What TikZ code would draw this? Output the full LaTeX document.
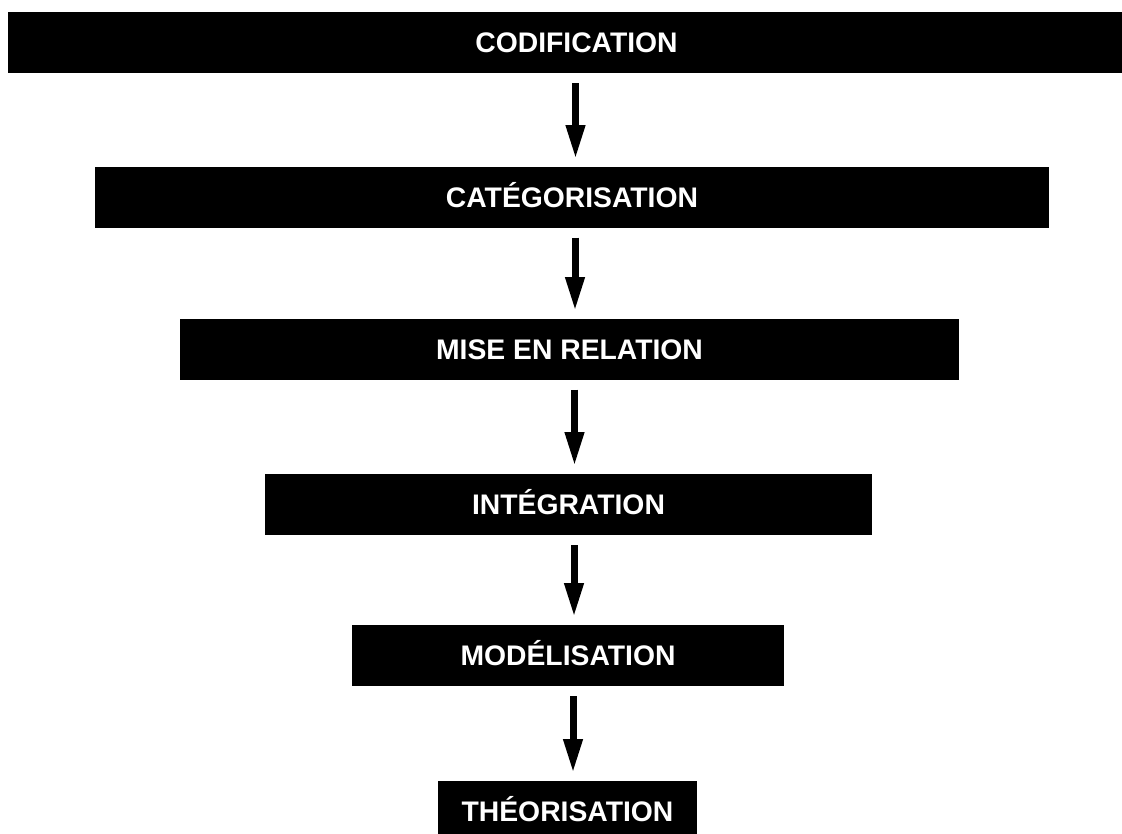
\documentclass[tikz,border=0pt]{standalone}
\usepackage{fontspec}
\setmainfont{Liberation Sans}
\usetikzlibrary{arrows.meta,calc}
\tikzset{
  stage/.style={fill=black, text=white, draw=none, inner sep=0pt,
    minimum height=61pt, text height=20.3pt, text depth=0pt,
    font=\bfseries\fontsize{28.3}{34}\selectfont},
  flow/.style={line width=7pt, -{Triangle[width=18pt,length=34pt]}, shorten >=0pt}
}
\begin{document}
\begin{tikzpicture}[x=1pt,y=-1pt]
\useasboundingbox (0,0) rectangle (1122,833);
\clip (0,0) rectangle (1122,833);
\fill[white] (0,0) rectangle (1122,833);
\node[stage, minimum width=1137pt] (b1) at (576.5,42.5) {CODIFICATION};
\node[stage, minimum width=954pt] (b2) at (572,197) {CATÉGORISATION};
\node[stage, minimum width=779pt] (b3) at (569.5,349) {MISE EN RELATION};
\node[stage, minimum width=607pt] (b4) at (568.5,504.5) {INTÉGRATION};
\node[stage, minimum width=432pt] (b5) at (568,655.5) {MODÉLISATION};
\node[stage, minimum width=259pt] (b6) at (567.5,811.5) {THÉORISATION};
\coordinate (a1s) at (575.5,82);  \coordinate (a1e) at (575.5,159);
\coordinate (a2s) at (575,237);   \coordinate (a2e) at (575,311);
\coordinate (a3s) at (574.5,389); \coordinate (a3e) at (574.5,466);
\coordinate (a4s) at (574,545);   \coordinate (a4e) at (574,617);
\coordinate (a5s) at (573,696);   \coordinate (a5e) at (573,773);
\draw[flow] (a1s |- b1.south) ++(0,10) -- (a1e);
\draw[flow] (a2s |- b2.south) ++(0,10) -- (a2e);
\draw[flow] (a3s |- b3.south) ++(0,10) -- (a3e);
\draw[flow] (a4s |- b4.south) ++(0,10) -- (a4e);
\draw[flow] (a5s |- b5.south) ++(0,10) -- (a5e);
\end{tikzpicture}
\end{document}
